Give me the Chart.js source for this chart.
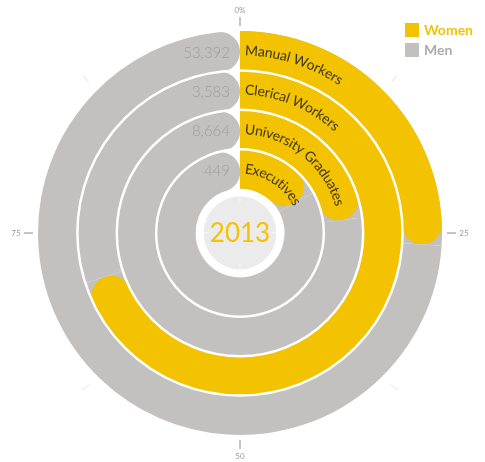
<!DOCTYPE html>
<html>
<head>
<meta charset="utf-8">
<script src="https://cdn.jsdelivr.net/npm/chart.js@4/dist/chart.umd.min.js"></script>
<style>
  body { margin: 0; background: #fff; }
  #wrap { width: 485px; height: 462px; position: relative; }
</style>
</head>
<body>
<div id="wrap"><canvas id="myChart"></canvas></div>
<script>
// data, outer ring first
const categories = ["Manual Workers", "Clerical Workers", "University Graduates", "Executives"];
const totals = [53392, 3583, 8664, 449];
const womenPct = [26, 70, 23, 17];
const menPct = [74, 30, 77, 83];
const seriesNames = ["Women", "Men"];
const axisLabels = ["0%", "25", "50", "75"];
const yearLabel = "2013";

const YELLOW = "#f3c200";
const GREY = "#c3c0c0";

// grey under the women arc so the rounded end sits on grey
const underlayPlugin = {
    id: "underlay",
    beforeDatasetsDraw(chart) {
        const ctx = chart.ctx;
        chart.data.datasets.forEach((ds, i) => {
            const w = chart.getDatasetMeta(i).data[0];
            ctx.save();
            ctx.beginPath();
            ctx.arc(w.x, w.y, w.outerRadius, w.startAngle, w.endAngle);
            ctx.arc(w.x, w.y, w.innerRadius, w.endAngle, w.startAngle, true);
            ctx.closePath();
            ctx.fillStyle = GREY;
            ctx.fill();
            ctx.restore();
        });
    }
};

// ring gaps, curved labels, totals, centre, axis ticks, legend
const decoPlugin = {
    id: "deco",
    afterDatasetsDraw(chart) {
        const ctx = chart.ctx;
        const n = chart.data.datasets.length;
        const first = chart.getDatasetMeta(0).data[0];
        const cx = first.x, cy = first.y;

        // white lines between rings
        ctx.save();
        ctx.strokeStyle = "#fff";
        ctx.lineWidth = 2.5;
        for (let i = 1; i < n; i++) {
            const a = chart.getDatasetMeta(i).data[0];
            ctx.beginPath();
            ctx.arc(cx, cy, a.outerRadius, 0, Math.PI * 2);
            ctx.stroke();
        }
        ctx.restore();

        for (let i = 0; i < n; i++) {
            const a = chart.getDatasetMeta(i).data[0];
            const r = (a.innerRadius + a.outerRadius) / 2;

            // curved category label, clockwise from the top
            ctx.save();
            ctx.font = "14px Lato";
            ctx.fillStyle = "#3b3628";
            ctx.textAlign = "center";
            ctx.textBaseline = "middle";
            let ang = 5 / r;
            for (const ch of categories[i]) {
                const cw = ctx.measureText(ch).width;
                const mid = ang + cw / 2 / r;
                ctx.save();
                ctx.translate(cx, cy);
                ctx.rotate(mid);
                ctx.fillText(ch, 0, -r);
                ctx.restore();
                ang += cw / r;
            }
            ctx.restore();

            // total on the grey side
            ctx.save();
            ctx.font = "300 15px Lato";
            ctx.fillStyle = "#a09d9d";
            ctx.textAlign = "right";
            ctx.textBaseline = "middle";
            ctx.fillText(totals[i].toLocaleString("en-US"), cx - 10, cy - r + 2);
            ctx.restore();
        }

        // centre
        const inner = chart.getDatasetMeta(n - 1).data[0].innerRadius;
        ctx.save();
        ctx.fillStyle = "#ebebeb";
        ctx.beginPath();
        ctx.arc(cx, cy, inner - 8, 0, Math.PI * 2);
        ctx.fill();
        ctx.strokeStyle = "#fafafa";
        ctx.lineWidth = 1;
        for (let k = 0; k < 4; k++) {
            const t = k * Math.PI / 2;
            ctx.beginPath();
            ctx.moveTo(cx + Math.sin(t) * (inner - 13), cy - Math.cos(t) * (inner - 13));
            ctx.lineTo(cx + Math.sin(t) * (inner - 4), cy - Math.cos(t) * (inner - 4));
            ctx.stroke();
        }
        ctx.font = "26px Lato";
        ctx.fillStyle = YELLOW;
        ctx.textAlign = "center";
        ctx.textBaseline = "middle";
        ctx.fillText(yearLabel, cx, cy + 1);
        ctx.restore();

        // outer ticks
        const R = first.outerRadius;
        ctx.save();
        ctx.lineWidth = 1;
        for (let k = 0; k < 8; k++) {
            const t = k * Math.PI / 4;
            const s = Math.sin(t), c = Math.cos(t);
            const main = k % 2 === 0;
            ctx.strokeStyle = main ? "#8a8a8a" : "#e2e2e2";
            const r0 = main ? R + 5 : R + 12, r1 = main ? R + 14 : R + 20;
            ctx.beginPath();
            ctx.moveTo(cx + s * r0, cy - c * r0);
            ctx.lineTo(cx + s * r1, cy - c * r1);
            ctx.stroke();
        }
        ctx.font = "8px Lato";
        ctx.fillStyle = "#9a9a9a";
        ctx.textAlign = "center";
        ctx.textBaseline = "middle";
        for (let k = 0; k < 4; k++) {
            const t = k * Math.PI / 2;
            const rr = R + (k % 2 === 0 ? 21 : 22);
            ctx.fillText(axisLabels[k], cx + Math.sin(t) * rr, cy - Math.cos(t) * rr);
        }
        ctx.restore();

        // legend
        const colors = chart.data.datasets[0].backgroundColor;
        const textColors = [YELLOW, "#aeabab"];
        ctx.save();
        ctx.font = "bold 14px Lato";
        ctx.textBaseline = "middle";
        seriesNames.forEach((name, k) => {
            const y = 30 + k * 20;
            ctx.fillStyle = colors[k];
            ctx.fillRect(405, y - 7, 14, 14);
            ctx.fillStyle = textColors[k];
            ctx.fillText(name, 424, y);
        });
        ctx.restore();
    }
};

const datasets = categories.map((c, i) => ({
    label: c,
    data: [womenPct[i], menPct[i]],
    backgroundColor: [YELLOW, GREY],
    borderWidth: 0,
    borderRadius: { outerStart: 0, innerStart: 0, outerEnd: 100, innerEnd: 100 }
}));

new Chart(document.getElementById("myChart"), {
    type: "doughnut",
    data: { labels: seriesNames, datasets: datasets },
    options: {
        responsive: true,
        maintainAspectRatio: false,
        animation: false,
        events: [],
        cutout: "22%",
        layout: { padding: { left: 38, right: 43, top: 31, bottom: 27 } },
        plugins: {
            legend: { display: false },
            tooltip: { enabled: false }
        }
    },
    plugins: [underlayPlugin, decoPlugin]
});
</script>
</body>
</html>
